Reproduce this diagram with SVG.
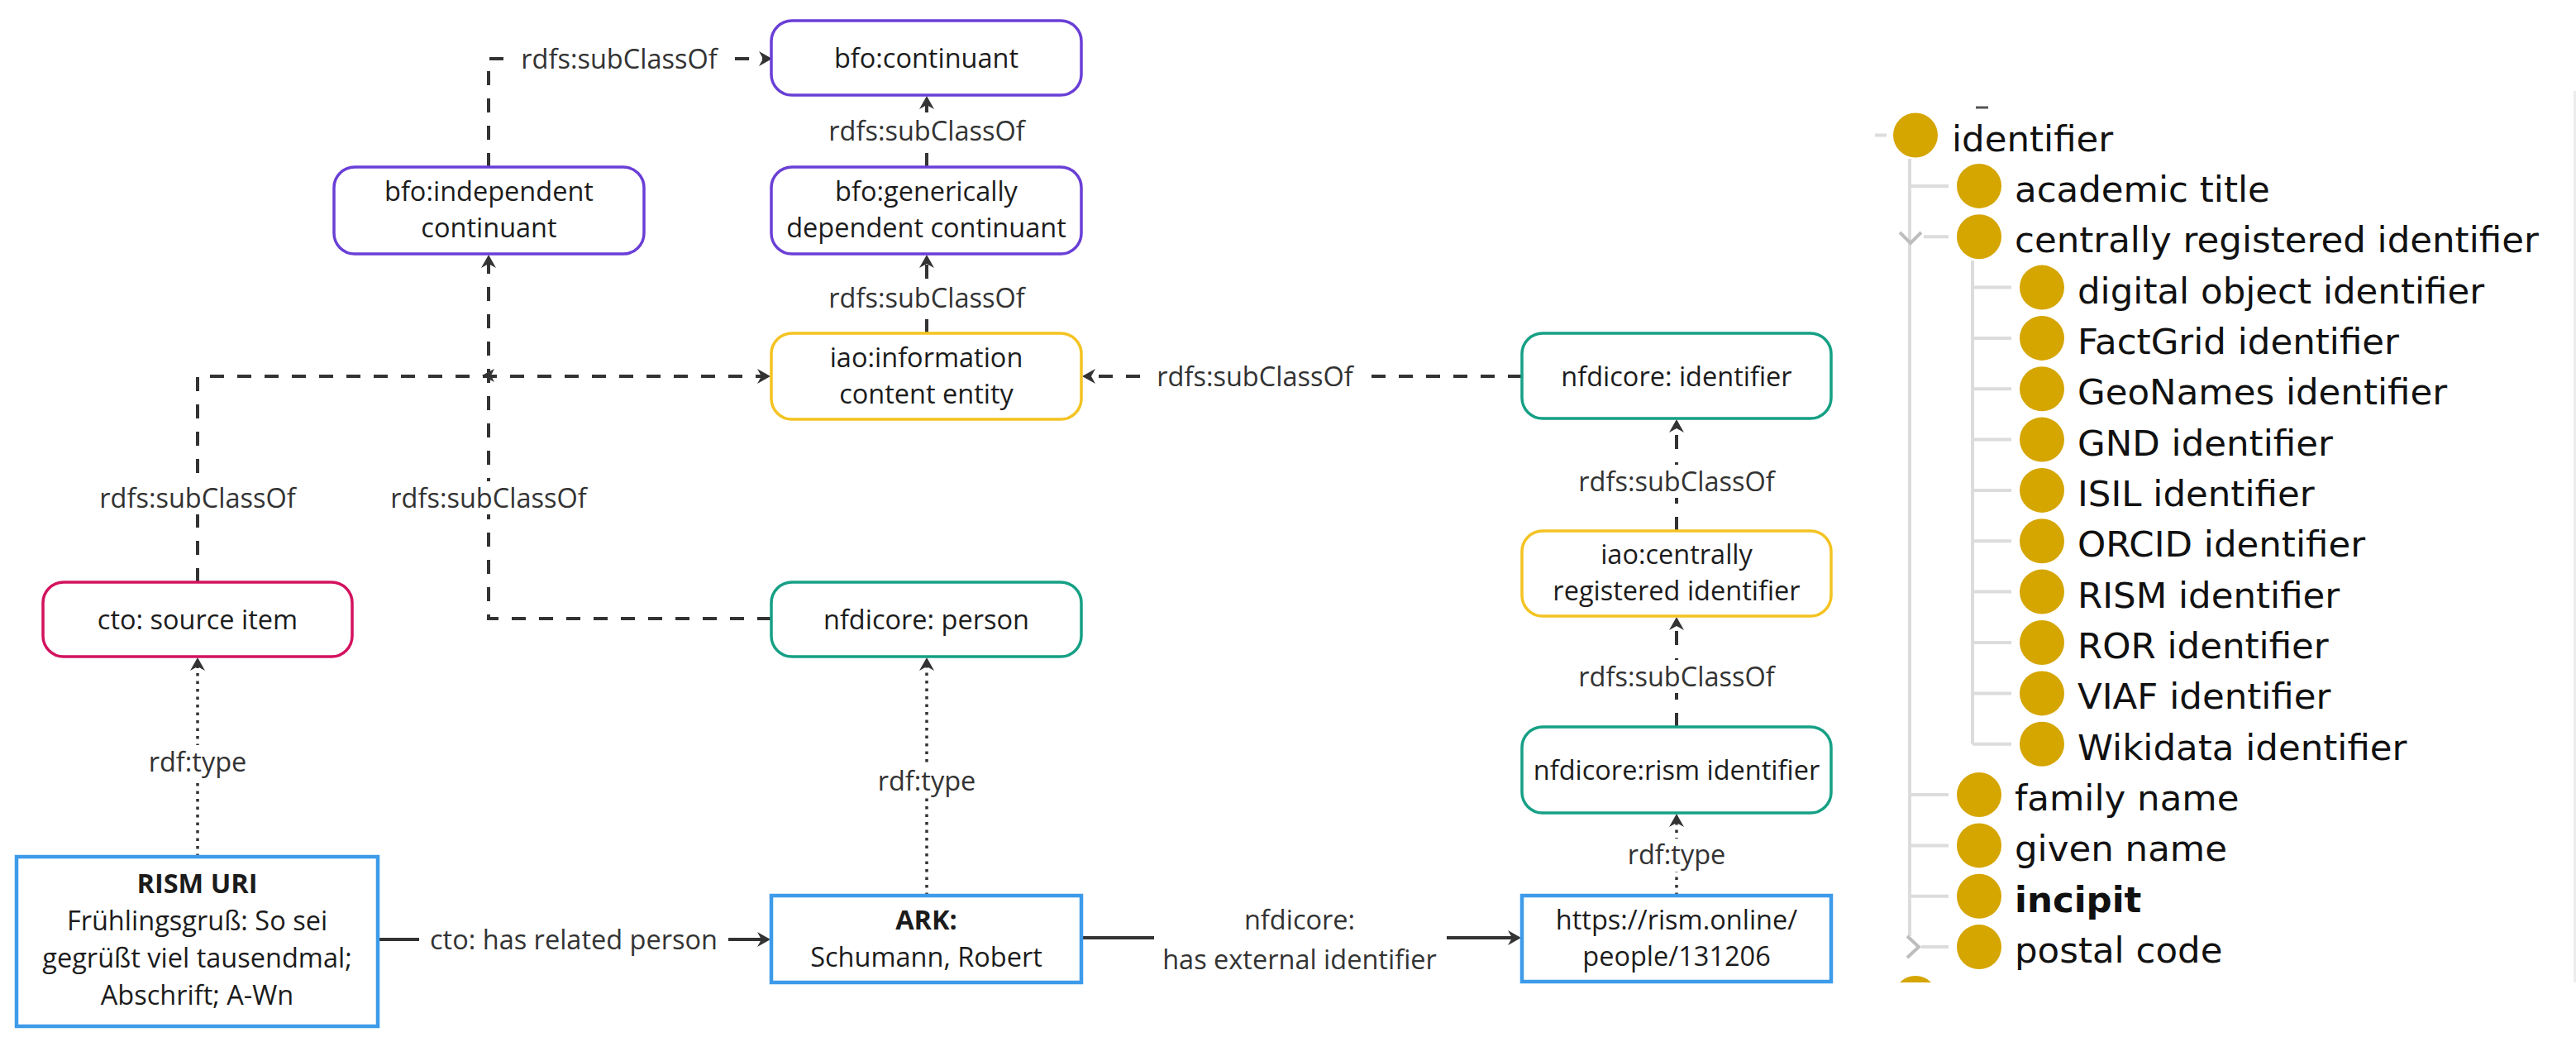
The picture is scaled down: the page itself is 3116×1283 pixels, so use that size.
<svg xmlns="http://www.w3.org/2000/svg" width="3116" height="1283" viewBox="0 0 3116 1283">
<defs>
<marker id="arr" viewBox="-10 -10 20 20" refX="0" refY="0" markerWidth="20" markerHeight="20" markerUnits="userSpaceOnUse" orient="auto">
<path d="M9,0 L-7,-9 L-2,0 L-7,9 Z" fill="#333"/>
</marker>
<clipPath id="treeclip"><rect x="2200" y="110" width="916" height="1078"/></clipPath>
</defs>
<style>
.node{fill:#fff;stroke-width:3.5}
.purple{stroke:#6a3fd6}
.yellow{stroke:#f4c322}
.teal{stroke:#16a085}
.pink{stroke:#d3135f}
.blue{stroke:#3d9be9;stroke-width:4.5}
.nt{font-family:"Open Sans","Noto Sans","Liberation Sans",sans-serif;font-size:32.5px;fill:#1c1c1c;text-anchor:middle}
.lt{font-family:"Open Sans","Noto Sans","Liberation Sans",sans-serif;font-size:32.5px;fill:#333;text-anchor:middle}
.b{font-weight:bold}
.dash{fill:none;stroke:#333;stroke-width:4;stroke-dasharray:17 16}
.dot{fill:none;stroke:#333;stroke-width:3.5;stroke-dasharray:3.5 6}
.solid{fill:none;stroke:#333;stroke-width:4}
.bg{fill:#fff}
.tl{stroke:#dcdcdc;stroke-width:4;fill:none}
.chev{stroke:#bdbdbd;stroke-width:4;fill:none}
.dotc{fill:#d5a500}
.tt{font-family:"DejaVu Sans","Liberation Sans",sans-serif;font-size:43.5px;fill:#111}
</style>
<rect width="3116" height="1283" fill="#fff"/>

<g id="connectors">
<path class="dash" d="M591,202 V71 H925" marker-end="url(#arr)"/>
<rect class="bg" x="620" y="51" width="258" height="40"/>
<text class="lt" x="749" y="82.5">rdfs:subClassOf</text>

<path class="dash" d="M1121,202 V125" marker-end="url(#arr)"/>
<rect class="bg" x="992" y="138" width="258" height="40"/>
<text class="lt" x="1121" y="169.5">rdfs:subClassOf</text>

<path class="dash" d="M1121,403 V317" marker-end="url(#arr)"/>
<rect class="bg" x="992" y="340" width="258" height="40"/>
<text class="lt" x="1121" y="371.5">rdfs:subClassOf</text>

<path class="dash" d="M1841,455 H1318" marker-end="url(#arr)"/>
<rect class="bg" x="1389" y="435" width="258" height="40"/>
<text class="lt" x="1518" y="466.5">rdfs:subClassOf</text>

<path class="dash" d="M239,704 V455 H923" marker-end="url(#arr)"/>
<rect class="bg" x="110" y="582" width="258" height="40"/>
<text class="lt" x="239" y="613.5">rdfs:subClassOf</text>

<path class="dash" d="M933,748 H591 V317" marker-end="url(#arr)"/>
<rect class="bg" x="462" y="582" width="258" height="40"/>
<text class="lt" x="591" y="613.5">rdfs:subClassOf</text>
<path d="M583,454 L598,446 L594,454 L598,462 Z" fill="#333"/>

<path class="dash" d="M2028,879 V755" marker-end="url(#arr)"/>
<rect class="bg" x="1899" y="798" width="258" height="40"/>
<text class="lt" x="2028" y="829.5">rdfs:subClassOf</text>

<path class="dash" d="M2028,642 V516" marker-end="url(#arr)"/>
<rect class="bg" x="1899" y="562" width="258" height="40"/>
<text class="lt" x="2028" y="593.5">rdfs:subClassOf</text>

<path class="dot" d="M2028,1083 V993" marker-end="url(#arr)"/>
<rect class="bg" x="1963" y="1014" width="130" height="40"/>
<text class="lt" x="2028" y="1044.5">rdf:type</text>

<path class="dot" d="M239,1036 V804" marker-end="url(#arr)"/>
<rect class="bg" x="174" y="901" width="130" height="40"/>
<text class="lt" x="239" y="932.5">rdf:type</text>

<path class="dot" d="M1121,1083 V804" marker-end="url(#arr)"/>
<rect class="bg" x="1056" y="924" width="130" height="40"/>
<text class="lt" x="1121" y="955.5">rdf:type</text>

<path class="solid" d="M457,1136 H923" marker-end="url(#arr)"/>
<rect class="bg" x="507" y="1114" width="374" height="44"/>
<text class="lt" x="694" y="1147.5">cto: has related person</text>

<path class="solid" d="M1308,1134 H1831" marker-end="url(#arr)"/>
<rect class="bg" x="1396" y="1090" width="354" height="96"/>
<text class="lt" x="1572" y="1124">nfdicore:</text>
<text class="lt" x="1572" y="1172">has external identifier</text>
</g>

<g id="n-continuant">
<rect class="node purple" x="933" y="25" width="375" height="90" rx="25"/>
<text class="nt" x="1120.5" y="82">bfo:continuant</text>
</g>
<g id="n-independent">
<rect class="node purple" x="404" y="202" width="375" height="105" rx="25"/>
<text class="nt" x="591.5" y="243">bfo:independent</text>
<text class="nt" x="591.5" y="287">continuant</text>
</g>
<g id="n-generically">
<rect class="node purple" x="933" y="202" width="375" height="105" rx="25"/>
<text class="nt" x="1120.5" y="243">bfo:generically</text>
<text class="nt" x="1120.5" y="287">dependent continuant</text>
</g>
<g id="n-ice">
<rect class="node yellow" x="933" y="403" width="375" height="104" rx="25"/>
<text class="nt" x="1120.5" y="444">iao:information</text>
<text class="nt" x="1120.5" y="488">content entity</text>
</g>
<g id="n-sourceitem">
<rect class="node pink" x="52" y="704" width="374" height="90" rx="25"/>
<text class="nt" x="239" y="761">cto: source item</text>
</g>
<g id="n-person">
<rect class="node teal" x="933" y="704" width="375" height="90" rx="25"/>
<text class="nt" x="1120.5" y="761">nfdicore: person</text>
</g>
<g id="n-identifier">
<rect class="node teal" x="1841" y="403" width="374" height="103" rx="25"/>
<text class="nt" x="2028" y="466.5">nfdicore: identifier</text>
</g>
<g id="n-cri">
<rect class="node yellow" x="1841" y="642" width="374" height="103" rx="25"/>
<text class="nt" x="2028" y="682">iao:centrally</text>
<text class="nt" x="2028" y="726">registered identifier</text>
</g>
<g id="n-rismid">
<rect class="node teal" x="1841" y="879" width="374" height="104" rx="25"/>
<text class="nt" x="2028" y="943">nfdicore:rism identifier</text>
</g>
<g id="n-rismuri">
<rect class="node blue" x="20" y="1036" width="437" height="205"/>
<text class="nt b" x="238.5" y="1080">RISM URI</text>
<text class="nt" x="238.5" y="1125">Frühlingsgruß: So sei</text>
<text class="nt" x="238.5" y="1170">gegrüßt viel tausendmal;</text>
<text class="nt" x="238.5" y="1215">Abschrift; A-Wn</text>
</g>
<g id="n-ark">
<rect class="node blue" x="933" y="1083" width="375" height="105"/>
<text class="nt b" x="1120.5" y="1124">ARK:</text>
<text class="nt" x="1120.5" y="1169">Schumann, Robert</text>
</g>
<g id="n-url">
<rect class="node blue" x="1841" y="1083" width="374" height="104"/>
<text class="nt" x="2028" y="1124">https://rism.online/</text>
<text class="nt" x="2028" y="1168">people/131206</text>
</g>

<g id="tree" clip-path="url(#treeclip)">
<rect x="3113" y="0" width="3" height="1283" fill="#ececec"/>
<path d="M2390,130 H2405" stroke="#555" stroke-width="3"/>
<path class="tl" d="M2268,163.5 H2282"/>
<path class="tl" d="M2310,192 V1132"/>
<path class="tl" d="M2312,224.9 H2357 M2327,286.2 H2357 M2312,961 H2357 M2312,1022.4 H2357 M2312,1083.8 H2357 M2324,1145.1 H2357"/>
<path class="chev" d="M2298,281 L2311,294 L2324,281"/>
<path class="chev" d="M2307,1132 L2321,1145 L2307,1158"/>
<path class="tl" d="M2386,315 V899.7"/>
<path class="tl" d="M2386,347.6 H2433 M2386,408.9 H2433 M2386,470.3 H2433 M2386,531.6 H2433 M2386,592.9 H2433 M2386,654.3 H2433 M2386,715.6 H2433 M2386,777 H2433 M2386,838.4 H2433 M2386,899.7 H2433"/>
<circle class="dotc" cx="2317" cy="163.5" r="27"/>
<circle class="dotc" cx="2394" cy="224.9" r="27"/>
<circle class="dotc" cx="2394" cy="286.2" r="27"/>
<circle class="dotc" cx="2470" cy="347.6" r="27"/>
<circle class="dotc" cx="2470" cy="408.9" r="27"/>
<circle class="dotc" cx="2470" cy="470.3" r="27"/>
<circle class="dotc" cx="2470" cy="531.6" r="27"/>
<circle class="dotc" cx="2470" cy="592.9" r="27"/>
<circle class="dotc" cx="2470" cy="654.3" r="27"/>
<circle class="dotc" cx="2470" cy="715.6" r="27"/>
<circle class="dotc" cx="2470" cy="777" r="27"/>
<circle class="dotc" cx="2470" cy="838.4" r="27"/>
<circle class="dotc" cx="2470" cy="899.7" r="27"/>
<circle class="dotc" cx="2394" cy="961" r="27"/>
<circle class="dotc" cx="2394" cy="1022.4" r="27"/>
<circle class="dotc" cx="2394" cy="1083.8" r="27"/>
<circle class="dotc" cx="2394" cy="1145.1" r="27"/>
<circle class="dotc" cx="2317" cy="1207" r="27"/>
<text class="tt" x="2361" y="182.5">identifier</text>
<text class="tt" x="2437" y="244">academic title</text>
<text class="tt" x="2437" y="305.2">centrally registered identifier</text>
<text class="tt" x="2513" y="366.6">digital object identifier</text>
<text class="tt" x="2513" y="427.9">FactGrid identifier</text>
<text class="tt" x="2513" y="489.3">GeoNames identifier</text>
<text class="tt" x="2513" y="550.6">GND identifier</text>
<text class="tt" x="2513" y="611.9">ISIL identifier</text>
<text class="tt" x="2513" y="673.3">ORCID identifier</text>
<text class="tt" x="2513" y="734.6">RISM identifier</text>
<text class="tt" x="2513" y="796">ROR identifier</text>
<text class="tt" x="2513" y="857.4">VIAF identifier</text>
<text class="tt" x="2513" y="918.7">Wikidata identifier</text>
<text class="tt" x="2437" y="980">family name</text>
<text class="tt" x="2437" y="1041.4">given name</text>
<text class="tt b" x="2437" y="1102.8">incipit</text>
<text class="tt" x="2437" y="1164.1">postal code</text>
</g>
</svg>
